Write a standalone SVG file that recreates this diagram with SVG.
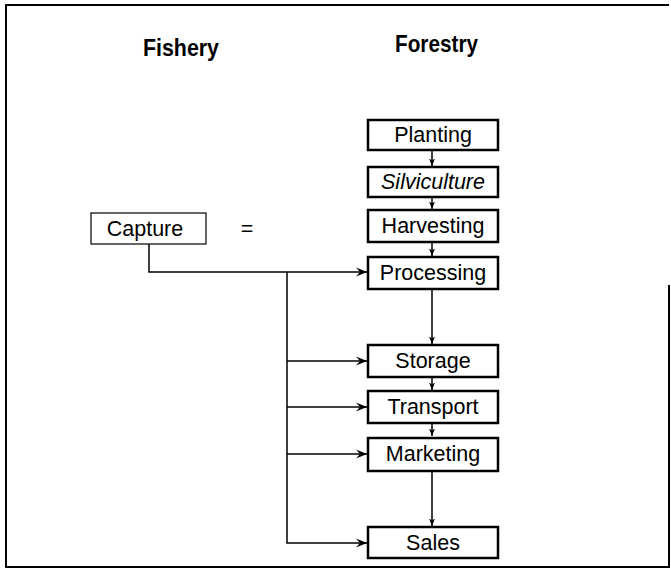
<svg xmlns="http://www.w3.org/2000/svg" width="671" height="569" viewBox="0 0 671 569">
<style>
text{font-family:"Liberation Sans",Arial,sans-serif;fill:#000}
.lbl{font-size:21.5px;text-anchor:middle}
.hd{font-size:24px;font-weight:bold}
.box{fill:#fff;stroke:#000;stroke-width:2.5}
.thin{fill:#fff;stroke:#000;stroke-width:1.2}
.ln{fill:none;stroke:#000;stroke-width:1.5}
</style>
<defs>
<marker id="ah" markerWidth="12" markerHeight="10" refX="11" refY="5" orient="auto" markerUnits="userSpaceOnUse">
<path d="M0,0.5 L11,5 L0,9.5 L4,5 z" fill="#000"/>
</marker>
<marker id="sh" markerWidth="8" markerHeight="7" refX="7.5" refY="3.5" orient="auto" markerUnits="userSpaceOnUse">
<path d="M0,0.5 L7.5,3.5 L0,6.5 L2,3.5 z" fill="#000"/>
</marker>
</defs>
<rect x="0" y="0" width="671" height="569" fill="#fff"/>
<path d="M669,5 L6,5 L6,567 L669,567 L669,285" fill="none" stroke="#000" stroke-width="2"/>
<text class="hd" x="143" y="56" textLength="76" lengthAdjust="spacingAndGlyphs">Fishery</text>
<text class="hd" x="395" y="52" textLength="83" lengthAdjust="spacingAndGlyphs">Forestry</text>
<g id="connectors">
<path class="ln" d="M149,244 L149,272 L367,272" marker-end="url(#ah)"/>
<path class="ln" d="M287,272 L287,543 L367,543" marker-end="url(#ah)"/>
<path class="ln" d="M287,361 L367,361" marker-end="url(#ah)"/>
<path class="ln" d="M287,407 L367,407" marker-end="url(#ah)"/>
<path class="ln" d="M287,454 L367,454" marker-end="url(#ah)"/>
<path class="ln" d="M432,150 L432,166" marker-end="url(#sh)"/>
<path class="ln" d="M432,197 L432,209" marker-end="url(#sh)"/>
<path class="ln" d="M432,242 L432,256" marker-end="url(#sh)"/>
<path class="ln" d="M432,289 L432,344" marker-end="url(#sh)"/>
<path class="ln" d="M432,377 L432,390" marker-end="url(#sh)"/>
<path class="ln" d="M432,423 L432,436" marker-end="url(#sh)"/>
<path class="ln" d="M432,471 L432,526" marker-end="url(#sh)"/>
</g>
<g id="capture"><rect class="thin" x="91" y="213" width="115" height="31"/><text class="lbl" x="145" y="236">Capture</text></g>
<g id="equals"><text class="lbl" x="247" y="236">=</text></g>
<g id="planting"><rect class="box" x="368" y="120" width="130" height="30"/><text class="lbl" x="433" y="142">Planting</text></g>
<g id="silviculture"><rect class="box" x="368" y="167" width="130" height="30"/><text class="lbl" x="433" y="189" font-style="italic">Silviculture</text></g>
<g id="harvesting"><rect class="box" x="368" y="210" width="130" height="32"/><text class="lbl" x="433" y="233">Harvesting</text></g>
<g id="processing"><rect class="box" x="368" y="257" width="130" height="32"/><text class="lbl" x="433" y="280">Processing</text></g>
<g id="storage"><rect class="box" x="368" y="345" width="130" height="32"/><text class="lbl" x="433" y="368">Storage</text></g>
<g id="transport"><rect class="box" x="368" y="391" width="130" height="32"/><text class="lbl" x="433" y="414">Transport</text></g>
<g id="marketing"><rect class="box" x="368" y="438" width="130" height="33"/><text class="lbl" x="433" y="461">Marketing</text></g>
<g id="sales"><rect class="box" x="368" y="527" width="130" height="31"/><text class="lbl" x="433" y="550">Sales</text></g>
</svg>
